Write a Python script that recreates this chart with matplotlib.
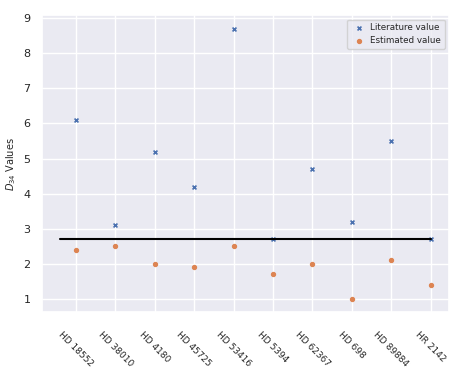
import matplotlib
matplotlib.use('Agg')
import matplotlib.pyplot as plt
import seaborn as sns

sns.set_theme(style='darkgrid')

# data
stars = ['HD 18552', 'HD 38010', 'HD 4180', 'HD 45725', 'HD 53416',
         'HD 5394', 'HD 62367', 'HD 698', 'HD 89884', 'HR 2142']
literature = [6.1, 3.1, 5.2, 4.2, 8.7, 2.7, 4.7, 3.2, 5.5, 2.7]
estimated = [2.4, 2.5, 2.0, 1.9, 2.5, 1.7, 2.0, 1.0, 2.1, 1.4]
mean_line = 2.7

fig, ax = plt.subplots(figsize=(4.63, 3.81), dpi=100)
ax.scatter(stars, literature, marker='x', s=8, linewidths=1.2, label='Literature value')
ax.scatter(stars, estimated, marker='o', s=8, label='Estimated value')
ax.plot([-0.4, len(stars) - 1], [mean_line, mean_line], color='black', lw=1.5)

ax.set_ylabel('$D_{34}$ Values', fontsize=7)
ax.tick_params(axis='y', labelsize=8, pad=2)
ax.tick_params(axis='x', labelsize=6.5, pad=7)
plt.setp(ax.get_xticklabels(), rotation=-45)
ax.legend(fontsize=6.3, loc='upper right', handletextpad=0.3)

fig.subplots_adjust(left=0.09, right=0.97, top=0.96, bottom=0.18)
fig.savefig('out.png')
